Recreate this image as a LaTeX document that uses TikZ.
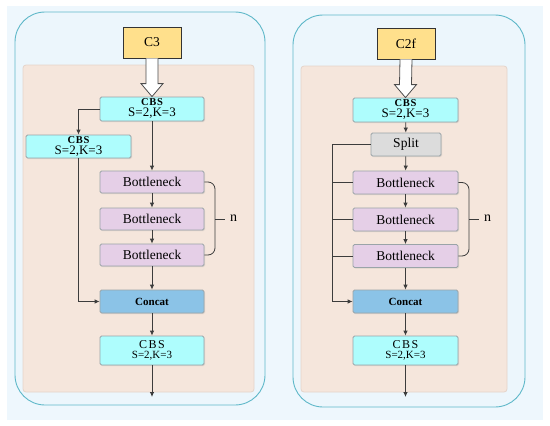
\documentclass[tikz,border=0pt]{standalone}
\usepackage{fontspec}
\setmainfont{Liberation Serif}
\usepackage{xcolor}
\usepackage{tikz}
\usetikzlibrary{arrows.meta,positioning,calc,shadows}

\definecolor{pagebg}{HTML}{EEF7FD}
\definecolor{panelline}{HTML}{5FB8C9}
\definecolor{panelbg}{HTML}{ECF6FC}
\definecolor{corebg}{HTML}{F5E6DC}
\definecolor{coreline}{HTML}{E4D4CA}
\definecolor{headfill}{HTML}{FFE08C}
\definecolor{cbsfill}{HTML}{AEFDFD}
\definecolor{bnfill}{HTML}{E5CFE7}
\definecolor{catfill}{HTML}{8BC3E7}
\definecolor{splitfill}{HTML}{DCDCDC}
\definecolor{boxline}{HTML}{9AA4A8}
\definecolor{wire}{HTML}{3C3C3C}

\begin{document}
\begin{tikzpicture}[x=1pt,y=-1pt]
\tikzstyle{every node}+=[inner sep=0pt]
\tikzstyle{blk}=[draw=boxline, line width=0.8pt, rounded corners=1.5pt, align=center,
  drop shadow={opacity=0.18, shadow xshift=1pt, shadow yshift=-1.2pt}]
\tikzstyle{head}=[draw=black!80, line width=0.8pt, fill=headfill, minimum width=58pt, minimum height=31pt,
  font=\fontsize{13.5}{13.5}\selectfont, drop shadow={opacity=0.18, shadow xshift=1pt, shadow yshift=-1.2pt}]
\tikzstyle{cbs}=[blk, fill=cbsfill, minimum width=104pt, minimum height=24pt, font=\fontsize{13}{11}\selectfont]
\tikzstyle{cbslow}=[blk, fill=cbsfill, minimum width=104pt, minimum height=29pt, font=\fontsize{11}{10}\selectfont]
\tikzstyle{bneck}=[blk, fill=bnfill, minimum width=104pt, minimum height=22pt, font=\fontsize{13.5}{13.5}\selectfont]
\tikzstyle{cat}=[blk, fill=catfill, minimum width=104pt, minimum height=23pt, font=\fontsize{11}{11}\selectfont\bfseries]
\tikzstyle{split}=[blk, fill=splitfill, minimum width=70pt, minimum height=23pt, font=\fontsize{13.5}{13.5}\selectfont]
\tikzstyle{conn}=[draw=wire, line width=0.8pt, -{Latex[length=5pt,width=4.5pt]}]
\tikzstyle{wireline}=[draw=wire, line width=0.8pt]
\tikzstyle{hollow}=[draw=black!70, line width=0.8pt, fill=white, line join=miter]
\tikzstyle{panel}=[draw=panelline, line width=0.9pt, fill=panelbg, rounded corners=30pt]
\tikzstyle{core}=[draw=coreline, line width=0.8pt, fill=corebg, rounded corners=3pt]
\newcommand{\cbstag}{{\fontsize{10.5}{10.5}\selectfont\bfseries\addfontfeature{LetterSpace=6}CBS}}

\useasboundingbox (0,0) rectangle (550,426);
\fill[white] (0,0) rectangle (550,426);
\fill[pagebg] (7,6) rectangle (543,420);

% C3 block
\draw[panel] (15,12) rectangle (265,405);
\draw[core] (23,65) rectangle (254,392);
\node[head] (c3) at (152,42.5) {C3};
\node[cbs] (cbsA) at (152,109) {\cbstag\\S=2,K=3};
\node[cbs, minimum width=105pt, minimum height=23pt] (cbsB) at (78.5,146.5) {\cbstag\\S=2,K=3};
\node[bneck] (bnA1) at (152,182) {Bottleneck};
\node[bneck] (bnA2) at (152,219) {Bottleneck};
\node[bneck] (bnA3) at (152,255) {Bottleneck};
\node[cat] (catA) at (152,301.5) {Concat};
\node[cbslow] (cbsC) at (152,350.5) {{\fontsize{12}{12}\selectfont\addfontfeature{LetterSpace=12}CBS}\\S=2,K=3};
\coordinate (outA) at (152,397);
\coordinate (brA) at (215,219);
\node[font=\fontsize{14}{14}\selectfont] (nA) at (233.5,218) {n};

\draw[hollow] ($(c3.south)+(-6,0)$) -- ($(cbsA.north)+(-6,-13)$) -- ++(-5,0) -- (cbsA.north)
  -- ($(cbsA.north)+(11,-13)$) -- ++(-5,0) -- ($(c3.south)+(6,0)$);
\draw[conn] (cbsA.west) -| (cbsB.north);
\draw[conn] (cbsA) -- (bnA1);
\draw[conn] (bnA1) -- (bnA2);
\draw[conn] (bnA2) -- (bnA3);
\draw[conn] (bnA3) -- (catA);
\draw[conn] (cbsB.south) |- (catA.west);
\draw[conn] (catA) -- (cbsC);
\draw[conn] (cbsC) -- (outA);
\draw[wireline, rounded corners=7pt] (bnA1.east) -| (brA) |- (bnA3.east);
\draw[wireline] (brA) -- ++(10,0);

% C2f block
\draw[panel] (293,15) rectangle (525,407);
\draw[core] (301,66) rectangle (507,392);
\node[head] (c2f) at (406,43.5) {C2f};
\node[cbs, minimum width=105pt] (cbsD) at (405.5,110) {\cbstag\\S=2,K=3};
\node[split] (split) at (406,144.5) {Split};
\node[bneck, minimum width=105pt, minimum height=23pt] (bnB1) at (405.5,182.5) {Bottleneck};
\node[bneck, minimum width=105pt, minimum height=23pt] (bnB2) at (405.5,219.5) {Bottleneck};
\node[bneck, minimum width=105pt, minimum height=23pt] (bnB3) at (405.5,256) {Bottleneck};
\node[cat, minimum width=105pt] (catB) at (405.5,301.5) {Concat};
\node[cbslow, minimum width=105pt] (cbsE) at (405.5,350.5) {{\fontsize{12}{12}\selectfont\addfontfeature{LetterSpace=12}CBS}\\S=2,K=3};
\coordinate (outB) at (405.5,397);
\coordinate (busB) at (332,301.5);
\coordinate (brB) at (469,219.5);
\node[font=\fontsize{14}{14}\selectfont] (nB) at (487.5,218.5) {n};

\draw[hollow] ($(c2f.south)+(-6,0)$) -- ($(cbsD.north)+(-6,-13)$) -- ++(-5,0) -- (cbsD.north)
  -- ($(cbsD.north)+(11,-13)$) -- ++(-5,0) -- ($(c2f.south)+(6,0)$);
\draw[conn] (cbsD) -- (split);
\draw[conn] (split) -- (bnB1);
\draw[conn] (bnB1) -- (bnB2);
\draw[conn] (bnB2) -- (bnB3);
\draw[conn] (bnB3) -- (catB);
\draw[conn] (split.west) -| (busB) -- (catB.west);
\draw[wireline] (bnB1.west -| busB) -- (bnB1.west);
\draw[wireline] (bnB2.west -| busB) -- (bnB2.west);
\draw[wireline] (bnB3.west -| busB) -- (bnB3.west);
\draw[conn] (catB) -- (cbsE);
\draw[conn] (cbsE) -- (outB);
\draw[wireline, rounded corners=7pt] (bnB1.east) -| (brB) |- (bnB3.east);
\draw[wireline] (brB) -- ++(10,0);
\end{tikzpicture}
\end{document}
